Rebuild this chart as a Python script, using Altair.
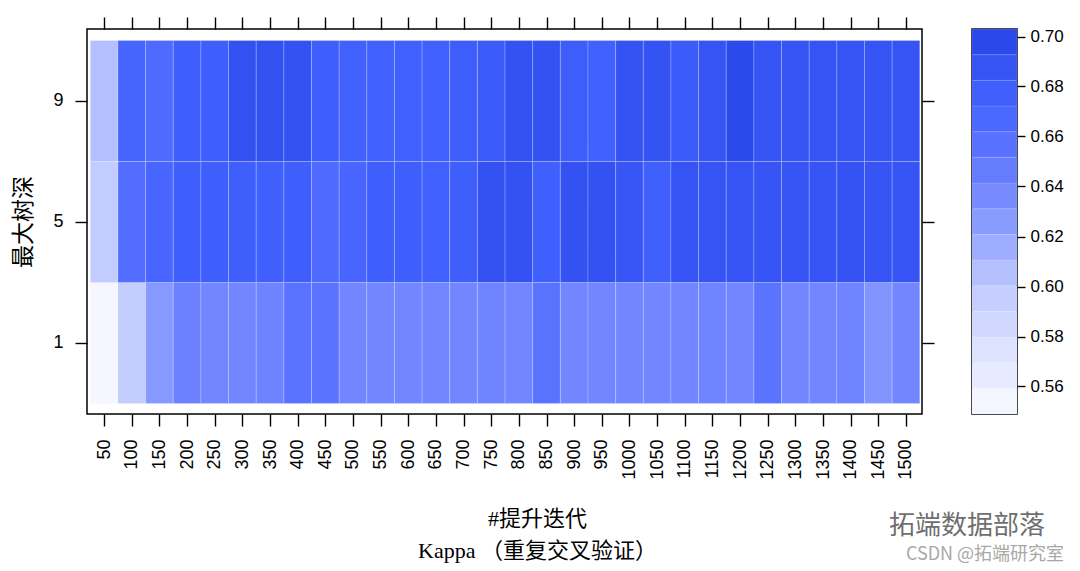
import altair as alt
import pandas as pd

# ---------------- data ----------------
iterations = [50, 100, 150, 200, 250, 300, 350, 400, 450, 500,
              550, 600, 650, 700, 750, 800, 850, 900, 950, 1000,
              1050, 1100, 1150, 1200, 1250, 1300, 1350, 1400, 1450, 1500]
depths = [1, 5, 9]

kappa_depth1 = [0.553, 0.597, 0.627, 0.643, 0.640, 0.640, 0.642, 0.656, 0.654, 0.639,
                0.639, 0.639, 0.640, 0.640, 0.641, 0.640, 0.655, 0.640, 0.640, 0.639,
                0.639, 0.640, 0.641, 0.640, 0.654, 0.640, 0.640, 0.641, 0.630, 0.640]
kappa_depth5 = [0.598, 0.662, 0.670, 0.678, 0.678, 0.678, 0.677, 0.678, 0.665, 0.670,
                0.678, 0.678, 0.676, 0.678, 0.690, 0.690, 0.677, 0.690, 0.690, 0.686,
                0.677, 0.688, 0.688, 0.688, 0.688, 0.688, 0.688, 0.689, 0.688, 0.688]
kappa_depth9 = [0.606, 0.672, 0.665, 0.678, 0.678, 0.691, 0.691, 0.690, 0.678, 0.676,
                0.676, 0.676, 0.676, 0.679, 0.681, 0.690, 0.690, 0.679, 0.676, 0.689,
                0.689, 0.681, 0.688, 0.697, 0.688, 0.688, 0.688, 0.688, 0.688, 0.688]

# colour key bands (lattice-style cut points)
band_edges = [0.549, 0.5593, 0.5695, 0.5798, 0.5901, 0.6003, 0.6106, 0.6209,
              0.6311, 0.6414, 0.6517, 0.6619, 0.6722, 0.6825, 0.6927, 0.703]
key_ticks = [0.56, 0.58, 0.60, 0.62, 0.64, 0.66, 0.68, 0.70]

color_domain = [0.55, 0.60, 0.625, 0.65, 0.675, 0.70]
color_range = ["#F8F9FF", "#C0CAFE", "#8A9CFF", "#5F77FF", "#4262FF", "#2847E8"]

x_title = ["#提升迭代", "Kappa （重复交叉验证）"]
y_title = "最大树深"
watermark = ["拓端数据部落", "CSDN @拓端研究室"]

# ---------------- tables ----------------
rows = []
for d, vals in zip(depths, [kappa_depth1, kappa_depth5, kappa_depth9]):
    for it, v in zip(iterations, vals):
        rows.append({"iter": it, "depth": d, "kappa": v})
df = pd.DataFrame(rows)

bands = pd.DataFrame({"lo": band_edges[:-1], "hi": band_edges[1:]})

LAT = "Liberation Sans"
CJK = "Noto Sans CJK SC"
TITLE_FONT = "Liberation Serif, Noto Sans CJK SC"

color_scale = alt.Scale(domain=color_domain, range=color_range, clamp=True)
x_scale = alt.Scale(domain=[19, 1529], nice=False, zero=False)
y_scale = alt.Scale(domain=[-1.35, 11.38], nice=False, zero=False)

cells = alt.Chart(df).transform_calculate(
    x0="datum.iter - 25", x1="datum.iter + 25",
    y0="datum.depth - 2", y1="datum.depth + 2",
).mark_rect(stroke="white", strokeWidth=0.6, strokeOpacity=0.35).encode(
    x=alt.X("x0:Q", scale=x_scale,
            axis=alt.Axis(orient="bottom", values=iterations, format="d",
                          labelAngle=270, labelPadding=13,
                          title=x_title, titleFont=TITLE_FONT, titleFontSize=22,
                          titleFontWeight="normal", titleLineHeight=32,
                          titlePadding=29, titleX=450, titleAnchor="middle")),
    x2="x1:Q",
    y=alt.Y("y0:Q", scale=y_scale,
            axis=alt.Axis(orient="left", values=depths, format="d",
                          labelPadding=12, labelAngle=0,
                          title=y_title, titleFont=CJK, titleFontSize=23,
                          titleFontWeight="normal", titlePadding=17)),
    y2="y1:Q",
    color=alt.Color("kappa:Q", scale=color_scale, legend=None),
)

frame = alt.Chart(df).mark_point(opacity=0).encode(
    x=alt.X("iter:Q", scale=x_scale,
            axis=alt.Axis(orient="top", values=iterations, labels=False, title=None)),
    y=alt.Y("depth:Q", scale=y_scale,
            axis=alt.Axis(orient="right", values=depths, labels=False, title=None)),
)

heat = alt.layer(cells, frame).resolve_axis(x="independent", y="independent").properties(
    width=835, height=385
)

key = alt.Chart(bands).transform_calculate(
    mid="(datum.lo + datum.hi) / 2"
).mark_rect(stroke="white", strokeWidth=0.4, strokeOpacity=0.3).encode(
    y=alt.Y("lo:Q", scale=alt.Scale(domain=[band_edges[0], band_edges[-1]], nice=False, zero=False),
            axis=alt.Axis(orient="right", values=key_ticks, format=".2f",
                          tickSize=8, labelPadding=5, labelFontSize=17, title=None)),
    y2="hi:Q",
    color=alt.Color("mid:Q", scale=color_scale, legend=None),
)

wm1 = alt.Chart(pd.DataFrame({"t": [watermark[0]]})).mark_text(
    font=CJK, fontSize=26, color="#6f6f6f", align="center", baseline="middle"
).encode(x=alt.value(-5), y=alt.value(497), text="t:N")
wm2 = alt.Chart(pd.DataFrame({"t": [watermark[1]]})).mark_text(
    font=CJK, fontSize=18, color="#a8a8a8", align="center", baseline="middle"
).encode(x=alt.value(13), y=alt.value(526), text="t:N")

key_panel = alt.layer(key, wm1, wm2).properties(width=45, height=385)

chart = alt.hconcat(heat, key_panel, spacing=50, bounds="flush").properties(
    padding={"left": 4, "top": 7, "right": 0, "bottom": 0},
    background="white",
).configure_view(
    stroke="black", strokeWidth=1.5
).configure_axis(
    domain=False, grid=False, ticks=True, tickSize=12, tickWidth=1.4,
    tickColor="black", labelColor="black", labelFont=LAT, labelFontSize=18,
    titleColor="black",
)

chart.save("out.html", embed_options={"renderer": "svg", "actions": False})
